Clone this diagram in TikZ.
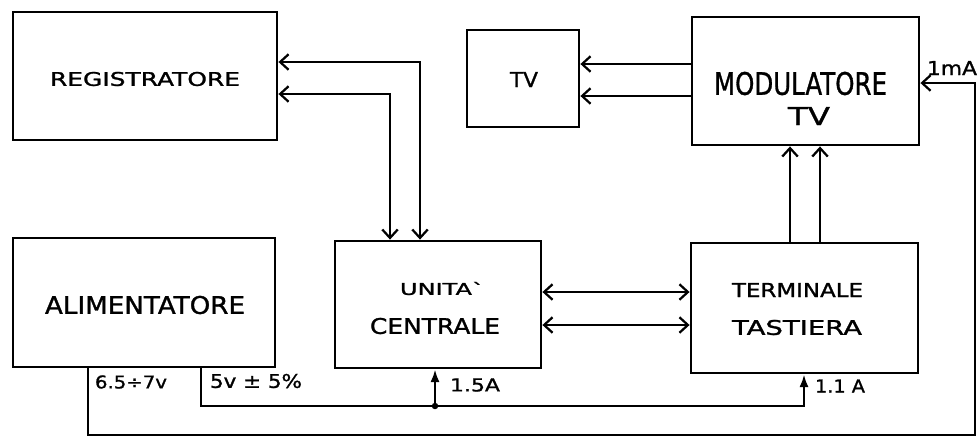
\documentclass[tikz,border=0pt]{standalone}
\usepackage{fontspec}
\setmainfont{DejaVu Sans}[FakeBold=1.2]
\usepackage{graphicx}
\usetikzlibrary{arrows.meta}
\newdimen\pxu \pxu=0.025cm
\newcommand{\fitt}[3]{\resizebox{#1\pxu}{#2\pxu}{#3}}
\begin{document}
\begin{tikzpicture}[x=0.025cm,y=-0.025cm,
  box/.style={draw, line width=2pt, inner sep=0pt},
  lbl/.style={inner sep=0pt, anchor=center},
  sig/.style={line width=1.6pt, >={Straight Barb[length=6pt,width=11pt]}},
  pwr/.style={line width=1.6pt, >={Latex[length=9pt,width=6.5pt]}}]
\useasboundingbox (0,0) rectangle (979,437);

% boxes
\node[box, minimum width=6.6cm, minimum height=3.2cm] (reg) at (145,76) {};
\node[box, minimum width=2.8cm, minimum height=2.425cm] (tv) at (523,78.5) {};
\node[box, minimum width=5.675cm, minimum height=3.2cm] (mod) at (805.5,81) {};
\node[box, minimum width=6.55cm, minimum height=3.225cm] (alim) at (144,302.5) {};
\node[box, minimum width=5.15cm, minimum height=3.175cm] (uc) at (438,304.5) {};
\node[box, minimum width=5.675cm, minimum height=3.25cm] (term) at (804.5,308) {};

% box texts
\node[lbl] (regt) at (145,79) {\fitt{190}{14}{REGISTRATORE}};
\node[lbl] (tvt) at (524,79.5) {\fitt{28}{15}{TV}};
\node[lbl] (modt1) at (800.5,83.5) {\fitt{173}{23}{MODULATORE}};
\node[lbl] (modt2) at (809,116) {\fitt{42}{18}{TV}};
\node[lbl] (alimt) at (145,305) {\fitt{200}{18}{ALIMENTATORE}};
\node[lbl] (uct1) at (442,288.5) {\fitt{84}{13}{UNITA\textasciigrave}};
\node[lbl] (uct2) at (435,326) {\fitt{130}{16}{CENTRALE}};
\node[lbl] (termt1) at (797.5,290) {\fitt{131}{14}{TERMINALE}};
\node[lbl] (termt2) at (797,327.5) {\fitt{130}{15}{TASTIERA}};

% value labels
\node[lbl] (v1) at (131,382) {\fitt{72}{13}{6.5÷7v}};
\node[lbl] (v2) at (256,381) {\fitt{92}{14}{5v ± 5\%}};
\node[lbl] (i1) at (475,385) {\fitt{50}{13}{1.5A}};
\node[lbl] (i2) at (840,386) {\fitt{50}{13}{1.1 A}};
\node[lbl] (i3) at (952,68) {\fitt{50}{14}{1mA}};

% signal connectors
\coordinate (r1) at (420,62);
\coordinate (r2) at (390,94);
\draw[sig,<->] (reg.east |- r1) -- (r1) -- (r1 |- uc.north);
\draw[sig,<->] (reg.east |- r2) -- (r2) -- (r2 |- uc.north);

\coordinate (t1) at (0,64);
\coordinate (t2) at (0,96);
\draw[sig,->] (mod.west |- t1) -- (tv.east |- t1);
\draw[sig,->] (mod.west |- t2) -- (tv.east |- t2);

\coordinate (m1) at (790,0);
\coordinate (m2) at (820,0);
\draw[sig,->] (term.north -| m1) -- (mod.south -| m1);
\draw[sig,->] (term.north -| m2) -- (mod.south -| m2);

\coordinate (h1) at (0,292);
\coordinate (h2) at (0,325);
\draw[sig,<->] (uc.east |- h1) -- (term.west |- h1);
\draw[sig,<->] (uc.east |- h2) -- (term.west |- h2);

% power
\coordinate (p5) at (201,406);
\coordinate (pj) at (435,406);
\coordinate (pt) at (804,406);
\draw[pwr,->] (alim.south -| p5) -- (p5) -- (pt) -- (pt |- term.south);
\draw[pwr,->] (pj) -- (pj |- uc.south);
\fill (pj) circle (2.3pt);

\coordinate (q1) at (88,435);
\coordinate (q2) at (975,435);
\coordinate (q3) at (975,83);
\draw[sig,->] (alim.south -| q1) -- (q1) -- (q2) -- (q3) -- (mod.east |- q3);
\end{tikzpicture}
\end{document}
